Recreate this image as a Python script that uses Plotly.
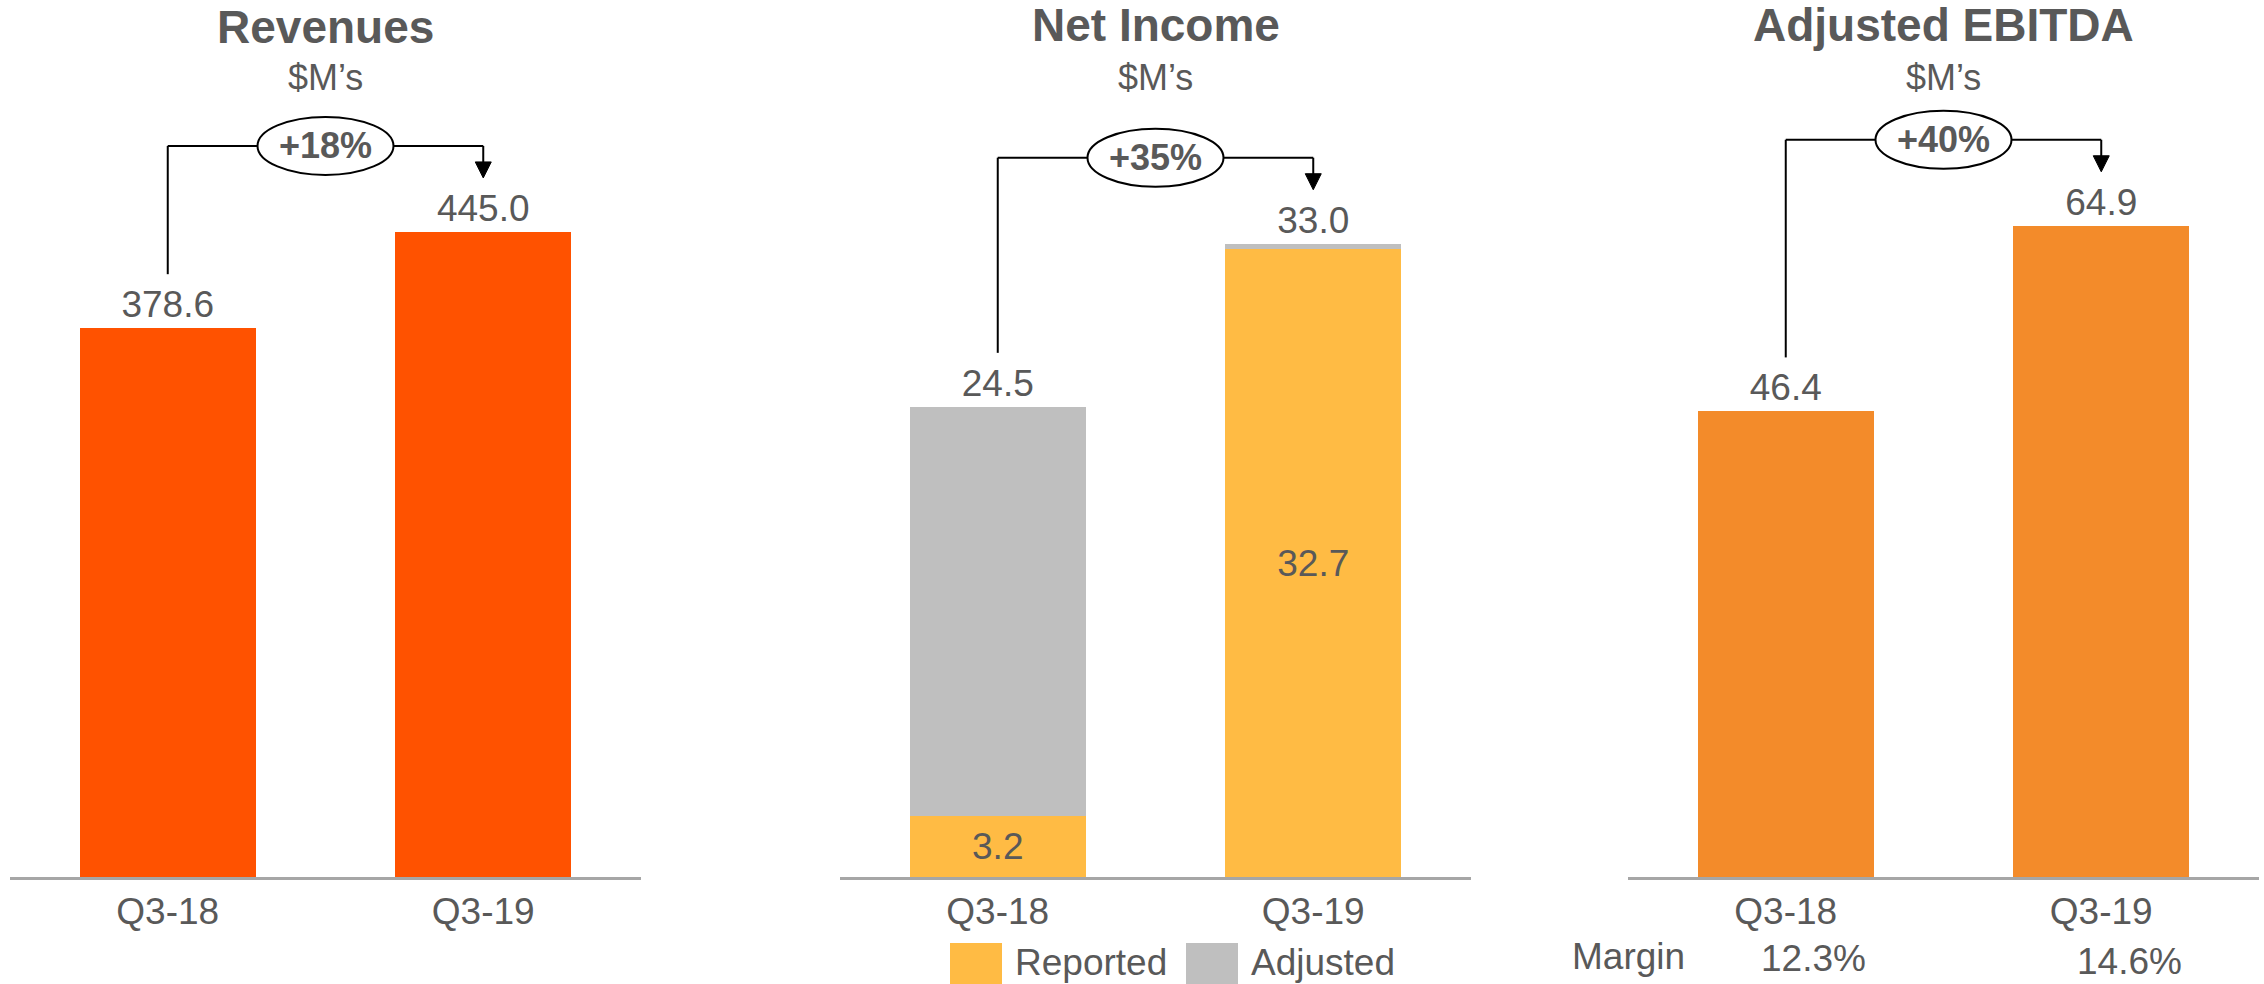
import plotly.graph_objects as go

# ---- data ----
quarters = ["Q3-18", "Q3-19"]
revenues = [378.6, 445.0]
net_reported = [3.2, 32.7]
net_adjusted = [24.5, 33.0]
ebitda = [46.4, 64.9]
ebitda_margin = ["12.3%", "14.6%"]
growth_labels = ["+18%", "+35%", "+40%"]
titles = ["Revenues", "Net Income", "Adjusted EBITDA"]
unit_label = "$M\u2019s"

# ---- style ----
FONT = "Liberation Sans, Arial, sans-serif"
TEXT = "#595959"
C_REV = "#FF5200"
C_REP = "#FFBB44"
C_ADJ = "#BFBFBF"
C_EBITDA = "#F38B2A"
AXIS_LINE = "#A6A6A6"

W, H = 2264, 984
BASE_PX = 877          # pixel row of the category axis
PLOT_H = BASE_PX       # plot area runs from the top of the page to the axis
panels_px = [(10, 641), (840, 1471), (1628, 2259)]
y_max = [605.0, 45.7, 87.4]
BAR_W = 0.557

fig = go.Figure()

def axis_names(i):
    return ("x" if i == 0 else f"x{i+1}", "y" if i == 0 else f"y{i+1}")

# Revenues
fig.add_trace(go.Bar(
    x=quarters, y=revenues, width=BAR_W, marker=dict(color=C_REV, line_width=0),
    texttemplate="%{y:.1f}", textposition="outside",
    textfont=dict(size=37, color=TEXT, family=FONT), cliponaxis=False,
    xaxis="x", yaxis="y", name="Revenues"))

# Net income: reported + adjustment stacked to the adjusted total
adj_part = [round(t - r, 1) for t, r in zip(net_adjusted, net_reported)]
fig.add_trace(go.Bar(
    x=quarters, y=net_reported, width=BAR_W, marker=dict(color=C_REP, line_width=0),
    texttemplate="%{y:.1f}", textposition="inside", insidetextanchor="middle",
    insidetextfont=dict(size=37, color=TEXT, family=FONT),
    xaxis="x2", yaxis="y2", name="Reported"))
fig.add_trace(go.Bar(
    x=quarters, y=adj_part, width=BAR_W, marker=dict(color=C_ADJ, line_width=0),
    customdata=net_adjusted, texttemplate="%{customdata:.1f}", textposition="outside",
    outsidetextfont=dict(size=37, color=TEXT, family=FONT), cliponaxis=False,
    xaxis="x2", yaxis="y2", name="Adjusted"))

# Adjusted EBITDA
fig.add_trace(go.Bar(
    x=quarters, y=ebitda, width=BAR_W, marker=dict(color=C_EBITDA, line_width=0),
    texttemplate="%{y:.1f}", textposition="outside",
    textfont=dict(size=37, color=TEXT, family=FONT), cliponaxis=False,
    xaxis="x3", yaxis="y3", name="Adjusted EBITDA"))

layout = dict(
    width=W, height=H, margin=dict(l=0, r=0, t=0, b=0),
    paper_bgcolor="white", plot_bgcolor="white",
    barmode="stack", showlegend=False,
    font=dict(family=FONT, color=TEXT),
)
ydom = [1 - BASE_PX / H, 1]
for i, (x0, x1) in enumerate(panels_px):
    xa, ya = axis_names(i)
    xkey = "xaxis" if i == 0 else f"xaxis{i+1}"
    ykey = "yaxis" if i == 0 else f"yaxis{i+1}"
    layout[xkey] = dict(
        domain=[x0 / W, x1 / W], anchor=ya, type="category", range=[-0.5, 1.5],
        showline=True, linecolor=AXIS_LINE, linewidth=3, ticks="",
        showgrid=False, zeroline=False, fixedrange=True,
        tickfont=dict(size=37, color=TEXT, family=FONT), ticklabelstandoff=0)
    layout[ykey] = dict(
        domain=ydom, anchor=xa, range=[0, y_max[i]], visible=False,
        showgrid=False, zeroline=False, fixedrange=True)
fig.update_layout(**layout)

shapes = []
annotations = []
tops = [revenues, net_adjusted, ebitda]
title_y = [27, 25, 25]
for i, (x0, x1) in enumerate(panels_px):
    xa, ya = axis_names(i)
    px_per_unit = PLOT_H / y_max[i]
    up = lambda px: px / px_per_unit
    vals = tops[i]
    bracket = max(vals) + up(86)
    tip = max(vals) + up(54)
    start = vals[0] + up(54)
    cx = (x0 + x1) / 2 / W

    # panel title and unit
    annotations.append(dict(
        x=cx, y=1 - title_y[i] / H, xref="paper", yref="paper", showarrow=False,
        text=f"<b>{titles[i]}</b>", font=dict(size=46, color=TEXT, family=FONT),
        xanchor="center", yanchor="middle"))
    annotations.append(dict(
        x=cx, y=1 - 77 / H, xref="paper", yref="paper", showarrow=False,
        text=unit_label, font=dict(size=36, color=TEXT, family=FONT),
        xanchor="center", yanchor="middle"))

    # growth bracket: line from the earlier bar, across, and an arrow down to the later bar
    line = dict(color="black", width=2)
    shapes.append(dict(type="line", xref=xa, yref=ya, x0=0, x1=0, y0=start, y1=bracket, line=line))
    shapes.append(dict(type="line", xref=xa, yref=ya, x0=0, x1=1, y0=bracket, y1=bracket, line=line))
    shapes.append(dict(type="line", xref=xa, yref=ya, x0=1, x1=1, y0=bracket, y1=tip + up(8), line=line))
    shapes.append(dict(type="path", xref=xa, yref=ya, xsizemode="pixel", ysizemode="pixel",
                       xanchor=1, yanchor=tip, path="M -8,16 L 8,16 L 0,0 Z",
                       fillcolor="black", line=dict(color="black", width=1)))
    shapes.append(dict(type="circle", xref=xa, yref=ya, xsizemode="pixel", ysizemode="pixel",
                       xanchor=0.5, yanchor=bracket, x0=-68, x1=68, y0=-29, y1=29,
                       fillcolor="white", line=dict(color="black", width=2)))
    annotations.append(dict(
        x=0.5, y=bracket, xref=xa, yref=ya, showarrow=False,
        text=f"<b>{growth_labels[i]}</b>", font=dict(size=36, color=TEXT, family=FONT),
        xanchor="center", yanchor="middle"))

# legend for the net income panel
legend_items = [("Reported", C_REP, 950), ("Adjusted", C_ADJ, 1186)]
for name, color, left in legend_items:
    shapes.append(dict(type="rect", xref="paper", yref="paper",
                       x0=left / W, x1=(left + 52) / W, y0=1 - 994 / H, y1=1 - 943 / H,
                       fillcolor=color, line=dict(width=0)))
    annotations.append(dict(
        x=(left + 63) / W, y=1 - 962 / H, xref="paper", yref="paper", showarrow=False,
        text=name, font=dict(size=37, color=TEXT, family=FONT),
        xanchor="left", yanchor="middle"))

# EBITDA margin row
annotations.append(dict(
    x=-0.5, y=1 - 956 / H, xref="x3", yref="paper", showarrow=False,
    text="Margin", font=dict(size=37, color=TEXT, family=FONT),
    xanchor="center", yanchor="middle"))
for j, m in enumerate(ebitda_margin):
    annotations.append(dict(
        x=j + 0.088, y=1 - (958 + 3 * j) / H, xref="x3", yref="paper", showarrow=False,
        text=m, font=dict(size=37, color=TEXT, family=FONT),
        xanchor="center", yanchor="middle"))

fig.update_layout(shapes=shapes, annotations=annotations)
fig.write_html("out.html")
